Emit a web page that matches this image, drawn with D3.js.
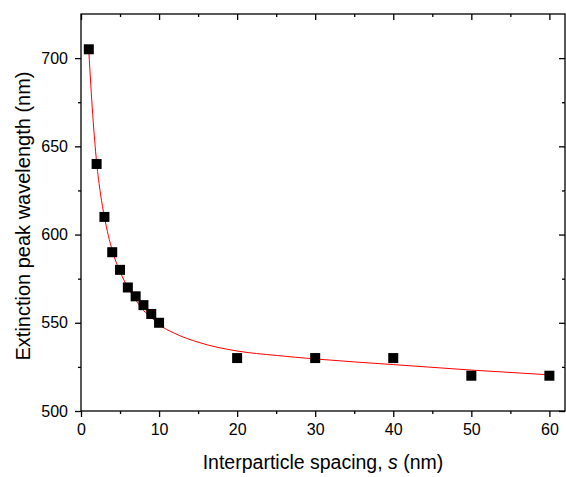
<!DOCTYPE html>
<meta charset="utf-8">
<style>
  body { margin: 0; background: #fff; }
  svg { display: block; font-family: "Liberation Sans", Arial, sans-serif; }
</style>
<svg width="566" height="477"></svg>
<script src="https://cdn.jsdelivr.net/npm/d3@7"></script>
<script>

// measured points
var spacing = [1, 2, 3, 4, 5, 6, 7, 8, 9, 10, 20, 30, 40, 50, 60];
var peak = [705, 640, 610, 590, 580, 570, 565, 560, 555, 550, 530, 530, 530, 520, 520];

// fitted curve
var fitX = [1, 1.5, 2, 2.5, 3, 4, 5, 6, 7, 8, 9, 10, 12, 15, 20, 25, 30, 40, 50, 60];
var fitY = [704, 668, 641, 623, 610, 591, 579, 570, 563, 557, 553, 549, 544, 539, 534, 531.5, 529.5, 526.3, 523.2, 520.5];

var xTicks = [0, 10, 20, 30, 40, 50, 60];
var yTicks = [500, 550, 600, 650, 700];

var svg = d3.select("svg"),
    pl = 81, pr = 565, pt = 14, pb = 411;

var x = d3.scaleLinear().domain([0, 62]).range([pl, pr]);
var y = d3.scaleLinear().domain([500, 725]).range([pb, pt]);

var minorX = d3.range(5, 62, 10),
    minorY = d3.range(525, 725, 50);

function styleAxis(g) {
  g.attr("font-family", null).attr("font-size", null);
  g.select(".domain").remove();
  g.selectAll("line").attr("stroke", "#000").attr("stroke-width", 1.3);
  g.selectAll("text").attr("fill", "#000").style("font-size", "16px");
}

// bottom axis
svg.append("g").attr("transform", "translate(0," + pb + ")")
    .call(d3.axisBottom(x).tickValues(xTicks).tickSize(6).tickPadding(7))
    .call(styleAxis);
svg.append("g").attr("transform", "translate(0," + pb + ")")
    .call(d3.axisBottom(x).tickValues(minorX).tickSize(3).tickFormat(""))
    .call(styleAxis);

// top axis, ticks inside
svg.append("g").attr("transform", "translate(0," + pt + ")")
    .call(d3.axisTop(x).tickValues(xTicks).tickSize(-6).tickFormat(""))
    .call(styleAxis);
svg.append("g").attr("transform", "translate(0," + pt + ")")
    .call(d3.axisTop(x).tickValues(minorX).tickSize(-3).tickFormat(""))
    .call(styleAxis);

// left axis
svg.append("g").attr("transform", "translate(" + pl + ",0)")
    .call(d3.axisLeft(y).tickValues(yTicks).tickSize(6).tickPadding(7))
    .call(styleAxis);
svg.append("g").attr("transform", "translate(" + pl + ",0)")
    .call(d3.axisLeft(y).tickValues(minorY).tickSize(3).tickFormat(""))
    .call(styleAxis);

// right axis, ticks inside
svg.append("g").attr("transform", "translate(" + pr + ",0)")
    .call(d3.axisRight(y).tickValues(yTicks).tickSize(-6).tickFormat(""))
    .call(styleAxis);
svg.append("g").attr("transform", "translate(" + pr + ",0)")
    .call(d3.axisRight(y).tickValues(minorY).tickSize(-3).tickFormat(""))
    .call(styleAxis);

// frame
svg.append("rect")
    .attr("x", pl).attr("y", pt)
    .attr("width", pr - pl).attr("height", pb - pt)
    .attr("fill", "none").attr("stroke", "#000").attr("stroke-width", 1.3);

// fit line
var fit = fitX.map(function(d, i) { return [d, fitY[i]]; });
svg.append("path")
    .datum(fit)
    .attr("fill", "none")
    .attr("stroke", "#ff0000")
    .attr("stroke-width", 1)
    .attr("d", d3.line()
        .x(function(d) { return x(d[0]); })
        .y(function(d) { return y(d[1]); })
        .curve(d3.curveMonotoneX));

// points
svg.append("g").selectAll("rect")
    .data(spacing)
    .enter().append("rect")
    .attr("x", function(d) { return x(d) - 5; })
    .attr("y", function(d, i) { return y(peak[i]) - 5; })
    .attr("width", 10).attr("height", 10)
    .attr("fill", "#000");

// axis titles
var xt = svg.append("text")
    .attr("x", (pl + pr) / 2).attr("y", 469)
    .attr("text-anchor", "middle")
    .attr("font-size", 19.5);
xt.append("tspan").text("Interparticle spacing, ");
xt.append("tspan").attr("font-style", "italic").text("s");
xt.append("tspan").text(" (nm)");

svg.append("text")
    .attr("transform", "translate(30,216) rotate(-90)")
    .attr("text-anchor", "middle")
    .attr("font-size", 20)
    .text("Extinction peak wavelength (nm)");

</script>
